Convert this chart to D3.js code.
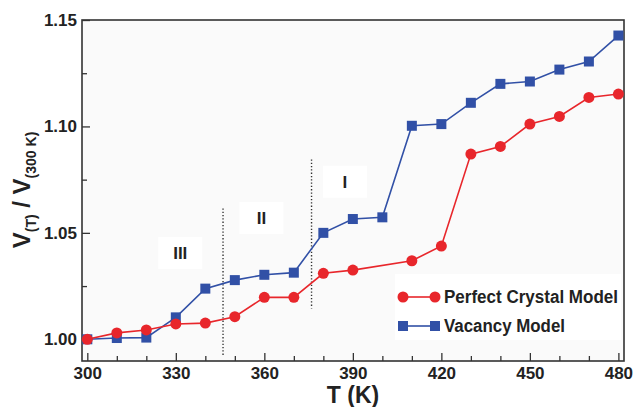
<!DOCTYPE html>
<html lang="en">
<head>
    <meta charset="UTF-8">
    <title>Volume ratio vs temperature</title>
    <script src="https://cdn.jsdelivr.net/npm/d3@7"></script>
    <style>
        * { margin: 0; padding: 0; }
        body { background: #fff; }
        text { font-family: "Liberation Sans", Arial, Helvetica, sans-serif; font-weight: bold; fill: #222; }
    </style>
</head>
<body>
    <script>
        // data
        const tempsPerfect = [300, 310, 320, 330, 340, 350, 360, 370, 380, 390, 410, 420, 430, 440, 450, 460, 470, 480];
        const perfect = [1.000, 1.003, 1.0044, 1.0072, 1.0076, 1.0106, 1.0197, 1.0197, 1.031, 1.0325, 1.0369, 1.0438, 1.087, 1.0906, 1.1011, 1.1047, 1.1136, 1.1152];
        const tempsVacancy = [300, 310, 320, 330, 340, 350, 360, 370, 380, 390, 400, 410, 420, 430, 440, 450, 460, 470, 480];
        const vacancy = [1.000, 1.0006, 1.0008, 1.0103, 1.0238, 1.0278, 1.0303, 1.0313, 1.050, 1.0565, 1.0573, 1.1003, 1.1011, 1.1111, 1.120, 1.1211, 1.1267, 1.1305, 1.1427];
        const xTicks = [300, 330, 360, 390, 420, 450, 480];
        const yTicks = [1.00, 1.05, 1.10, 1.15];
        const regionBounds = [346, 376];
        const regionLabels = [
            { label: "III", t: 331.5, v: 1.0405 },
            { label: "II", t: 359, v: 1.057 },
            { label: "I", t: 387.3, v: 1.074 }
        ];
        const seriesNames = ["Perfect Crystal Model", "Vacancy Model"];

        const width = 634, height = 407;
        const m = { top: 20, right: 10, bottom: 46, left: 82 };
        const red = "#e8262b", blue = "#3150a6";

        const svg = d3.select("body").append("svg").attr("width", width).attr("height", height);

        const x = d3.scaleLinear().domain([298.2, 481.9]).range([m.left, width - m.right]);
        const y = d3.scaleLinear().domain([0.9898, 1.15]).range([height - m.bottom, m.top]);

        svg.append("rect")
            .attr("x", m.left).attr("y", m.top)
            .attr("width", width - m.left - m.right).attr("height", height - m.top - m.bottom)
            .attr("fill", "#fafafa");

        // inward ticks
        const gx = svg.append("g").attr("transform", `translate(0,${height - m.bottom})`);
        gx.call(d3.axisBottom(x).tickValues(d3.range(310, 481, 10).filter(d => d % 30 !== 0)).tickSize(-5).tickFormat(""));
        gx.call(g => g.append("g").call(d3.axisBottom(x).tickValues(xTicks).tickSize(-8).tickPadding(6).tickFormat(d3.format("d"))));

        const gy = svg.append("g").attr("transform", `translate(${m.left},0)`);
        gy.call(d3.axisLeft(y).tickValues([1.025, 1.075, 1.125]).tickSize(-5).tickFormat(""));
        gy.call(g => g.append("g").call(d3.axisLeft(y).tickValues(yTicks).tickSize(-8).tickPadding(5).tickFormat(d3.format(".2f"))));

        svg.selectAll(".domain").remove();
        svg.selectAll(".tick line").attr("stroke", "#333").attr("stroke-width", 1.3);
        svg.selectAll(".tick text").attr("font-size", 17).attr("fill", "#222")
            .attr("font-family", "Liberation Sans, Arial, sans-serif").attr("font-weight", "bold");

        svg.append("rect")
            .attr("x", m.left).attr("y", m.top)
            .attr("width", width - m.left - m.right).attr("height", height - m.top - m.bottom)
            .attr("fill", "none").attr("stroke", "#333").attr("stroke-width", 1.6);

        // region separators
        svg.append("line")
            .attr("x1", x(regionBounds[0])).attr("x2", x(regionBounds[0]))
            .attr("y1", y(1.0615)).attr("y2", y(0.9917))
            .attr("stroke", "#333").attr("stroke-width", 1.4).attr("stroke-dasharray", "1.3,2");
        svg.append("line")
            .attr("x1", x(regionBounds[1])).attr("x2", x(regionBounds[1]))
            .attr("y1", y(1.0845)).attr("y2", y(1.0145))
            .attr("stroke", "#333").attr("stroke-width", 1.4).attr("stroke-dasharray", "1.3,2");

        const lbl = svg.append("g").selectAll("g").data(regionLabels).join("g")
            .attr("transform", d => `translate(${x(d.t)},${y(d.v)})`);
        lbl.append("rect").attr("x", -22).attr("y", -16).attr("width", 44).attr("height", 32).attr("fill", "#fff");
        lbl.append("text").attr("text-anchor", "middle").attr("dy", "0.36em").attr("font-size", 17).text(d => d.label);

        // legend background
        svg.append("rect").attr("x", 395).attr("y", 274).attr("width", 226).attr("height", 66).attr("fill", "#fff");

        const line = d3.line().x(d => x(d[0])).y(d => y(d[1]));
        const perfectPts = tempsPerfect.map((t, i) => [t, perfect[i]]);
        const vacancyPts = tempsVacancy.map((t, i) => [t, vacancy[i]]);

        svg.append("path").datum(vacancyPts).attr("d", line)
            .attr("fill", "none").attr("stroke", blue).attr("stroke-width", 1.6);
        svg.append("path").datum(perfectPts).attr("d", line)
            .attr("fill", "none").attr("stroke", red).attr("stroke-width", 1.6);

        svg.append("g").selectAll("rect").data(vacancyPts).join("rect")
            .attr("x", d => x(d[0]) - 5).attr("y", d => y(d[1]) - 5)
            .attr("width", 10).attr("height", 10).attr("fill", blue);
        svg.append("g").selectAll("circle").data(perfectPts).join("circle")
            .attr("cx", d => x(d[0])).attr("cy", d => y(d[1])).attr("r", 5.5).attr("fill", red);

        // legend
        const leg = svg.append("g").attr("transform", "translate(403,297)");
        leg.append("line").attr("x1", 0).attr("x2", 32).attr("stroke", red).attr("stroke-width", 1.6);
        leg.selectAll("circle").data([0, 32]).join("circle").attr("cx", d => d).attr("r", 5.5).attr("fill", red);
        leg.append("text").attr("x", 41).attr("dy", "0.36em").attr("font-size", 18)
            .attr("textLength", 174).attr("lengthAdjust", "spacingAndGlyphs").text(seriesNames[0]);
        const leg2 = svg.append("g").attr("transform", "translate(403,326)");
        leg2.append("line").attr("x1", 0).attr("x2", 32).attr("stroke", blue).attr("stroke-width", 1.6);
        leg2.selectAll("rect").data([0, 32]).join("rect").attr("x", d => d - 5).attr("y", -5)
            .attr("width", 10).attr("height", 10).attr("fill", blue);
        leg2.append("text").attr("x", 41).attr("dy", "0.36em").attr("font-size", 18)
            .attr("textLength", 121).attr("lengthAdjust", "spacingAndGlyphs").text(seriesNames[1]);

        // axis titles
        svg.append("text").attr("x", 353).attr("y", 403).attr("text-anchor", "middle")
            .attr("font-size", 23).text("T (K)");

        const yt = svg.append("text").attr("text-anchor", "middle")
            .attr("transform", "translate(30,190) rotate(-90)").attr("font-size", 24);
        yt.append("tspan").text("V");
        yt.append("tspan").attr("font-size", 14).attr("dy", 6).text("(T)");
        yt.append("tspan").attr("dy", -6).text(" / V");
        yt.append("tspan").attr("font-size", 14).attr("dy", 6).text("(300 K)");
    </script>
</body>
</html>
